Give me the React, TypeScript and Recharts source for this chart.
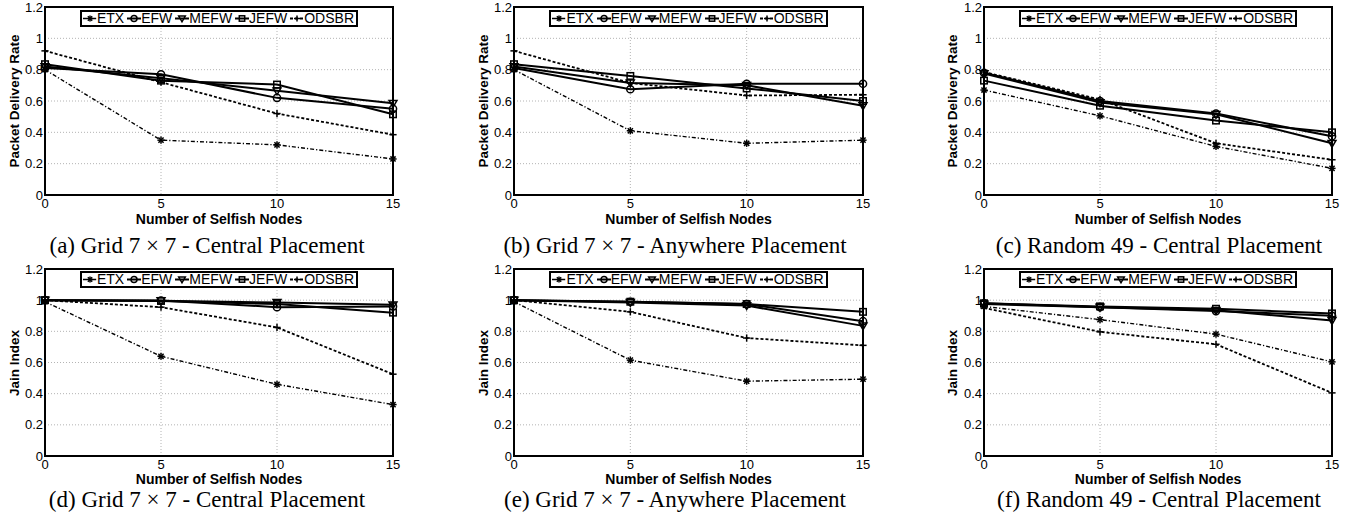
import React from 'react';
import { LineChart, Line, XAxis, YAxis, CartesianGrid, ReferenceArea } from 'recharts';

// x values and axis ticks
const nodes = [0, 5, 10, 15];
const xTicks = [0, 5, 10, 15];
const yTicks = [0, 0.2, 0.4, 0.6, 0.8, 1, 1.2];
const seriesNames = ['ETX', 'EFW', 'MEFW', 'JEFW', 'ODSBR'];

// (a) packet delivery rate, grid 7x7, central placement
const etxA = [0.8, 0.35, 0.32, 0.23];
const efwA = [0.81, 0.77, 0.62, 0.55];
const mefwA = [0.82, 0.745, 0.665, 0.585];
const jefwA = [0.835, 0.73, 0.705, 0.515];
const odsbrA = [0.92, 0.72, 0.52, 0.385];

// (b) packet delivery rate, grid 7x7, anywhere placement
const etxB = [0.8, 0.41, 0.33, 0.35];
const efwB = [0.81, 0.675, 0.71, 0.71];
const mefwB = [0.82, 0.715, 0.7, 0.57];
const jefwB = [0.835, 0.76, 0.68, 0.6];
const odsbrB = [0.92, 0.715, 0.635, 0.64];

// (c) packet delivery rate, random 49, central placement
const etxC = [0.67, 0.505, 0.31, 0.17];
const efwC = [0.78, 0.6, 0.52, 0.375];
const mefwC = [0.775, 0.59, 0.515, 0.33];
const jefwC = [0.73, 0.57, 0.475, 0.4];
const odsbrC = [0.785, 0.61, 0.33, 0.225];

// (d) jain index, grid 7x7, central placement
const etxD = [0.99, 0.64, 0.46, 0.33];
const efwD = [1.0, 0.998, 0.955, 0.96];
const mefwD = [1.0, 0.997, 0.985, 0.97];
const jefwD = [1.0, 0.995, 0.975, 0.92];
const odsbrD = [1.0, 0.955, 0.825, 0.525];

// (e) jain index, grid 7x7, anywhere placement
const etxE = [0.99, 0.615, 0.48, 0.493];
const efwE = [1.0, 0.99, 0.975, 0.865];
const mefwE = [1.0, 0.985, 0.965, 0.835];
const jefwE = [1.0, 0.99, 0.975, 0.925];
const odsbrE = [1.0, 0.925, 0.757, 0.71];

// (f) jain index, random 49, central placement
const etxF = [0.96, 0.875, 0.782, 0.604];
const efwF = [0.98, 0.955, 0.93, 0.9];
const mefwF = [0.975, 0.955, 0.935, 0.87];
const jefwF = [0.98, 0.96, 0.945, 0.915];
const odsbrF = [0.95, 0.797, 0.717, 0.405];

const panels = [
  { caption: '(a) Grid 7 × 7 - Central Placement', yLabel: 'Packet Delivery Rate', values: [etxA, efwA, mefwA, jefwA, odsbrA] },
  { caption: '(b) Grid 7 × 7 - Anywhere Placement', yLabel: 'Packet Delivery Rate', values: [etxB, efwB, mefwB, jefwB, odsbrB] },
  { caption: '(c) Random 49 - Central Placement', yLabel: 'Packet Delivery Rate', values: [etxC, efwC, mefwC, jefwC, odsbrC] },
  { caption: '(d) Grid 7 × 7 - Central Placement', yLabel: 'Jain Index', values: [etxD, efwD, mefwD, jefwD, odsbrD] },
  { caption: '(e) Grid 7 × 7 - Anywhere Placement', yLabel: 'Jain Index', values: [etxE, efwE, mefwE, jefwE, odsbrE] },
  { caption: '(f) Random 49 - Central Placement', yLabel: 'Jain Index', values: [etxF, efwF, mefwF, jefwF, odsbrF] },
];

// layout (page pixels)
const colChartLeft = [0, 460, 910];
const colPlotLeft = [45, 514, 984];
const colPlotRight = [393, 863, 1332];
const colCaptionX = [207, 675, 1159];
const colYLabelX = [15, 484, 953];
const rowChartTop = [0, 255];
const rowPlotTop = [7, 269];
const rowPlotBottom = [195, 456];
const rowXLabelY = [218, 478];
const rowCaptionY = [246, 500];
const rowLegendGap = [3, 2];
const CHART_W = 450;
const CHART_H = 230;
const Y_AXIS_W = 30;
const X_AXIS_H = 20;

const styles: Record<string, { marker: string; width: number; dash?: string }> = {
  ETX: { marker: 'star', width: 1.4, dash: '4 2 1.2 2' },
  EFW: { marker: 'circle', width: 2 },
  MEFW: { marker: 'tri', width: 2 },
  JEFW: { marker: 'square', width: 2 },
  ODSBR: { marker: 'plus', width: 1.8, dash: '3 2' },
};

const SANS = '"Liberation Sans", Arial, Helvetica, sans-serif';

const Marker = ({ kind, cx, cy, r }: { kind: string; cx: number; cy: number; r: number }) => {
  const st = { stroke: '#000', strokeWidth: 1.5, fill: 'none' };
  if (kind === 'star') {
    const d = r * 0.72;
    return (
      <g {...st}>
        <line x1={cx - r} y1={cy} x2={cx + r} y2={cy} />
        <line x1={cx} y1={cy - r} x2={cx} y2={cy + r} />
        <line x1={cx - d} y1={cy - d} x2={cx + d} y2={cy + d} />
        <line x1={cx - d} y1={cy + d} x2={cx + d} y2={cy - d} />
      </g>
    );
  }
  if (kind === 'circle') return <circle cx={cx} cy={cy} r={r} {...st} />;
  if (kind === 'tri')
    return (
      <polygon
        points={`${cx - r * 1.1},${cy - r * 0.8} ${cx + r * 1.1},${cy - r * 0.8} ${cx},${cy + r * 1.1}`}
        {...st}
        strokeLinejoin="miter"
      />
    );
  if (kind === 'square') return <rect x={cx - r * 0.9} y={cy - r * 0.9} width={r * 1.8} height={r * 1.8} {...st} />;
  return (
    <g {...st}>
      <line x1={cx - r} y1={cy} x2={cx + r} y2={cy} />
      <line x1={cx} y1={cy - r} x2={cx} y2={cy + r} />
    </g>
  );
};

const LegendBox = () => (
  <div
    style={{
      display: 'inline-flex',
      alignItems: 'center',
      border: '2px solid #000',
      background: '#fff',
      padding: '0 2px 0 1px',
      height: 13,
      font: `14px ${SANS}`,
      lineHeight: '13px',
      color: '#000',
    }}
  >
    {seriesNames.map((name, i) => {
      const s = styles[name];
      return (
        <span key={name} style={{ display: 'inline-flex', alignItems: 'center', marginLeft: i ? 3 : 0 }}>
          <svg width={14} height={13}>
            <line x1={0} y1={6.5} x2={14} y2={6.5} stroke="#000" strokeWidth={s.width} strokeDasharray={s.dash} />
            <Marker kind={s.marker} cx={7} cy={6.5} r={3} />
          </svg>
          <span>{name}</span>
        </span>
      );
    })}
  </div>
);

const Panel = ({ index }: { index: number }) => {
  const p = panels[index];
  const col = index % 3;
  const row = Math.floor(index / 3);
  const data = nodes.map((n, i) => {
    const rowObj: Record<string, number> = { n };
    seriesNames.forEach((name, k) => {
      rowObj[name] = p.values[k][i];
    });
    return rowObj;
  });
  const left = colChartLeft[col];
  const top = rowChartTop[row];
  const margin = {
    left: colPlotLeft[col] - left - Y_AXIS_W,
    right: CHART_W - (colPlotRight[col] - left),
    top: rowPlotTop[row] - top,
    bottom: CHART_H - (rowPlotBottom[row] - top) - X_AXIS_H,
  };
  const plotCx = (colPlotLeft[col] + colPlotRight[col]) / 2;
  const plotCy = (rowPlotTop[row] + rowPlotBottom[row]) / 2;
  return (
    <>
      <div style={{ position: 'absolute', left, top, width: CHART_W, height: CHART_H }}>
        <LineChart width={CHART_W} height={CHART_H} data={data} margin={margin}>
          <CartesianGrid stroke="#b4b4b4" strokeDasharray="1 2" strokeWidth={1} />
          <XAxis
            dataKey="n"
            type="number"
            domain={[0, 15]}
            ticks={xTicks}
            height={X_AXIS_H}
            tickLine={false}
            axisLine={false}
            tickSize={0}
            tickMargin={4}
            tick={{ fill: '#000', fontSize: 13, fontFamily: SANS }}
            interval={0}
          />
          <YAxis
            type="number"
            domain={[0, 1.2]}
            ticks={yTicks}
            width={Y_AXIS_W}
            tickLine={false}
            axisLine={false}
            tickSize={0}
            tickMargin={2}
            tick={{ fill: '#000', fontSize: 13, fontFamily: SANS }}
            interval={0}
          />
          <ReferenceArea x1={0} x2={15} y1={0} y2={1.2} fill="none" stroke="#000" strokeWidth={2} fillOpacity={0} />
          {seriesNames.map((name) => {
            const s = styles[name];
            return (
              <Line
                key={name}
                dataKey={name}
                type="linear"
                stroke="#000"
                strokeWidth={s.width}
                strokeDasharray={s.dash}
                isAnimationActive={false}
                activeDot={false}
                dot={(d: any) => <Marker key={`${name}-${d.index}`} kind={s.marker} cx={d.cx} cy={d.cy} r={3.6} />}
              />
            );
          })}
        </LineChart>
      </div>
      <div
        style={{
          position: 'absolute',
          left: colPlotLeft[col],
          width: colPlotRight[col] - colPlotLeft[col],
          top: rowPlotTop[row] + rowLegendGap[row],
          display: 'flex',
          justifyContent: 'center',
        }}
      >
        <LegendBox />
      </div>
      <div
        style={{
          position: 'absolute',
          left: colYLabelX[col],
          top: plotCy,
          transform: 'translate(-50%, -50%) rotate(-90deg)',
          font: `bold 13.5px ${SANS}`,
          lineHeight: '14px',
          whiteSpace: 'nowrap',
          color: '#000',
        }}
      >
        {p.yLabel}
      </div>
      <div
        style={{
          position: 'absolute',
          left: plotCx,
          top: rowXLabelY[row] + 1,
          transform: 'translate(-50%, -50%)',
          font: `bold 14px ${SANS}`,
          lineHeight: '12px',
          whiteSpace: 'nowrap',
          color: '#000',
        }}
      >
        Number of Selfish Nodes
      </div>
      <div
        style={{
          position: 'absolute',
          left: colCaptionX[col],
          top: rowCaptionY[row],
          transform: 'translate(-50%, -50%)',
          font: '23px "Liberation Serif", "Times New Roman", serif',
          whiteSpace: 'nowrap',
          color: '#000',
        }}
      >
        {p.caption}
      </div>
    </>
  );
};

export default function App() {
  return (
    <div style={{ position: 'absolute', left: 0, top: 0, width: 1363, height: 520, background: '#fff', overflow: 'hidden' }}>
      {panels.map((_, i) => (
        <Panel key={i} index={i} />
      ))}
    </div>
  );
}
